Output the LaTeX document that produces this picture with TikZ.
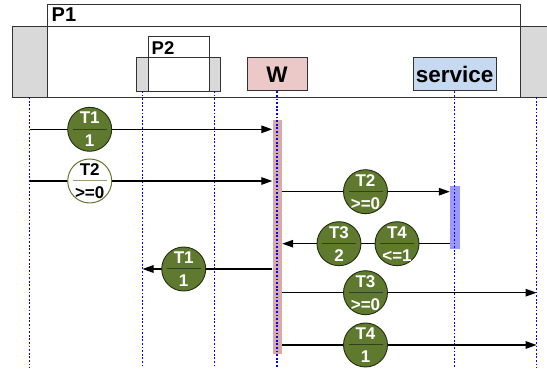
\documentclass[tikz,border=0pt]{standalone}
\usepackage{fontspec}
\setmainfont{Liberation Sans}
\usetikzlibrary{arrows.meta}
\definecolor{gbox}{RGB}{217,217,217}
\definecolor{wfill}{RGB}{236,201,201}
\definecolor{sfill}{RGB}{198,217,240}
\definecolor{wbarc}{RGB}{216,170,170}
\definecolor{sbarc}{RGB}{153,153,255}
\definecolor{tokgreen}{RGB}{95,122,46}
\definecolor{tokedge}{RGB}{35,45,15}
\definecolor{tokbarg}{RGB}{50,65,25}
\definecolor{tokbarw}{RGB}{150,160,120}
\definecolor{boxedge}{RGB}{51,51,51}
\newcommand{\mytok}[6]{%
  \node[tok#6] (#1) at (#2,#3) {};
  \draw[tbar#6] ([xshift=-17pt]#1.center) -- ([xshift=17pt]#1.center);
  \node[ttxt#6] at ([yshift=11.5pt]#1.center) {#4};
  \node[ttxt#6] at ([yshift=-11.5pt]#1.center) {#5};
}
\begin{document}
\begin{tikzpicture}[x=1pt,y=-1pt,
  box/.style={draw=boxedge,line width=0.9pt},
  lifeline/.style={draw=blue,line width=1.2pt,dash pattern=on 1.8pt off 1.8pt},
  msg/.style={draw=black,line width=1.3pt,-{Triangle[length=11pt,width=7.5pt]}},
  tokg/.style={circle,draw=tokedge,line width=0.9pt,fill=tokgreen,minimum size=44pt,inner sep=0pt},
  tokw/.style={circle,draw=tokgreen,line width=1pt,fill=white,minimum size=44pt,inner sep=0pt},
  ttxtg/.style={text=white,font=\bfseries\fontsize{17}{19}\selectfont,inner sep=0pt},
  ttxtw/.style={text=black,font=\bfseries\fontsize{17}{19}\selectfont,inner sep=0pt},
  tbarg/.style={draw=tokbarg,line width=1pt},
  tbarw/.style={draw=tokbarw,line width=1pt},
  lbl/.style={font=\bfseries\fontsize{20}{22}\selectfont,inner sep=0pt,anchor=west},
  part/.style={box,inner sep=0pt,minimum height=33.3pt,font=\bfseries\fontsize{22.5}{24}\selectfont}
]
\useasboundingbox (0,0) rectangle (547,371);
\clip (0,0) rectangle (547,371);
% P1 frame
\draw[box,fill=white] (47,4.3) rectangle (520,26.3);
\node[lbl] (p1) at (51.5,14.5) {P1};
\draw[box,fill=white] (12,26.3) rectangle (560,97.3);
\draw[box,fill=gbox] (12,26.3) rectangle (47,97.3);
\draw[box,fill=gbox] (520,26.3) rectangle (560,97.3);
% P2
\draw[box,fill=white] (148.3,36.7) rectangle (209,57.7);
\node[lbl,font=\bfseries\fontsize{18.5}{20}\selectfont] (p2) at (151.5,48) {P2};
\draw[box,fill=gbox] (136.7,57.7) rectangle (148.3,91);
\draw[box,fill=white] (148.3,57.7) rectangle (209,91);
\draw[box,fill=gbox] (209,57.7) rectangle (220.5,91);
% participants
\node[part,fill=wfill,minimum width=60pt] (W) at (277,74.3) {W};
\node[part,fill=sfill,minimum width=83.5pt] (S) at (454.7,74.3) {service};
% lifeline tops
\coordinate (L0) at (29.5,97.3);
\coordinate (L1) at (142.5,91);
\coordinate (L2) at (214.7,91);
\coordinate (R) at (536.6,97.3);
\coordinate (bot) at (0,368);
% activation bars
\node[fill=wbarc,minimum width=9.5pt,minimum height=234pt,inner sep=0pt] (wbar) at (277.25,237) {};
\node[fill=sbarc,minimum width=10pt,minimum height=63.6pt,inner sep=0pt] (sbar) at (455,217.5) {};
% lifelines
\draw[lifeline] (L0) -- (L0 |- bot);
\draw[lifeline] (L1) -- (L1 |- bot);
\draw[lifeline] (L2) -- (L2 |- bot);
\draw[lifeline] (W.south) -- (W.south |- bot);
\draw[lifeline] (S.south) -- (S.south |- bot);
\draw[lifeline] (R) -- (R |- bot);
% rows
\coordinate (r1) at (0,129.3);
\coordinate (r2) at (0,181);
\coordinate (r3) at (0,191.7);
\coordinate (r4) at (0,243.7);
\coordinate (r5) at (0,269);
\coordinate (r6) at (0,292.7);
\coordinate (r7) at (0,345);
\draw[msg] (L0 |- r1) -- (wbar.west |- r1);
\draw[msg] (L0 |- r2) -- (wbar.west |- r2);
\draw[msg] (wbar.east |- r3) -- (sbar.west |- r3);
\draw[msg] (sbar.west |- r4) -- (wbar.east |- r4);
\draw[msg] (wbar.west |- r5) -- (L1 |- r5);
\draw[msg] (wbar.east |- r6) -- (R |- r6);
\draw[msg] (wbar.east |- r7) -- (R |- r7);
% tokens
\mytok{k1}{89.7}{129.3}{T1}{1}{g}
\mytok{k2}{89.7}{181}{T2}{>=0}{w}
\mytok{k3}{365.5}{191.7}{T2}{>=0}{g}
\mytok{k4}{339}{243.7}{T3}{2}{g}
\mytok{k5}{397}{243.7}{T4}{<=1}{g}
\mytok{k6}{183.7}{269}{T1}{1}{g}
\mytok{k7}{365.5}{292.7}{T3}{>=0}{g}
\mytok{k8}{365.5}{345}{T4}{1}{g}
\end{tikzpicture}
\end{document}
